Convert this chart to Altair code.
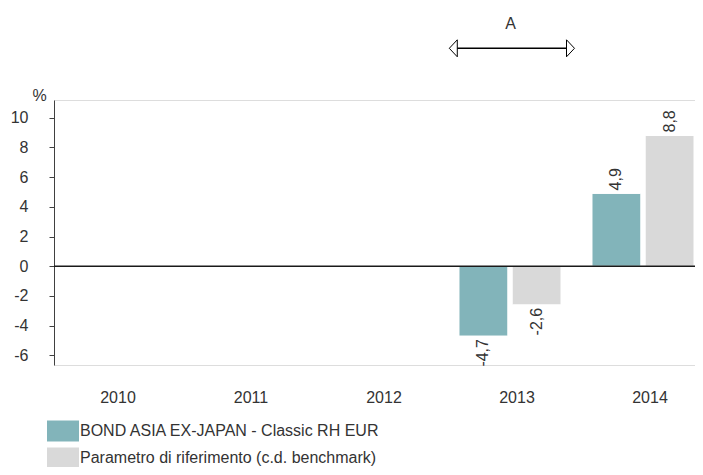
import altair as alt
import pandas as pd

years = ["2010", "2011", "2012", "2013", "2014"]
series = ["BOND ASIA EX-JAPAN - Classic RH EUR", "Parametro di riferimento (c.d. benchmark)"]
fund_values = [None, None, None, -4.7, 4.9]
bench_values = [None, None, None, -2.6, 8.8]
colors = ["#82b4ba", "#d9d9d9"]
y_ticks = [-6, -4, -2, 0, 2, 4, 6, 8, 10]
annotation_label = "A"

rows = []
for yr, fv, bv in zip(years, fund_values, bench_values):
    for s, v in ((series[0], fv), (series[1], bv)):
        if v is not None:
            rows.append({"year": yr, "series": s, "value": v,
                         "label": f"{v:.1f}".replace(".", ",")})
df = pd.DataFrame(rows)

FONT = "Liberation Sans"
TXT = "#333333"
MINUS = "\u2212"

x_enc = alt.X("year:N", sort=years,
              scale=alt.Scale(domain=years, paddingInner=0.233, paddingOuter=0.0263,
                              align=0.857, round=False),
              axis=alt.Axis(title=None, domain=False, ticks=False, labelAngle=0, labelFontSize=16,
                            labelColor=TXT, labelFont=FONT, labelPadding=24, labelOffset=7,
                            orient="bottom"))
xoff = alt.XOffset("series:N", sort=series,
                   scale=alt.Scale(domain=series, paddingInner=0.0824, paddingOuter=0))
y_enc = alt.Y("value:Q",
              scale=alt.Scale(domain=[-6.65, 11.19], nice=False, zero=False),
              axis=alt.Axis(values=y_ticks, grid=False, title="%", titleAngle=0, titleX=-15, titleY=0,
                            titleAlign="center", titleBaseline="alphabetic", titleFontSize=16,
                            titleFontWeight="normal", titleFont=FONT, titleColor=TXT,
                            labelFontSize=16, labelColor=TXT, labelFont=FONT, labelPadding=21,
                            labelOverlap=False, labelExpr=f"replace(datum.label, '{MINUS}', '-')",
                            tickSize=5, tickColor="#404040", domainColor="#404040"))
color_enc = alt.Color("series:N", sort=series,
                      scale=alt.Scale(domain=series, range=colors),
                      legend=alt.Legend(title=None, orient="none", legendX=-7, legendY=315,
                                        symbolType="M-1,-0.656H1V0.656H-1Z", symbolSize=1024,
                                        symbolStrokeWidth=0, symbolOpacity=1,
                                        labelFontSize=16, labelColor=TXT, labelFont=FONT,
                                        labelLimit=500, labelOffset=1, rowPadding=-11, padding=0))

base = alt.Chart(df)
bars = base.mark_bar(stroke="white", strokeWidth=1).encode(
    x=x_enc, xOffset=xoff, y=y_enc, color=color_enc)

zero = alt.Chart(pd.DataFrame({"value": [0]})).mark_rule(color="#1a1a1a", strokeWidth=1.5).encode(
    y=y_enc)

pos = base.transform_filter("datum.value >= 0").mark_text(
    angle=270, align="left", baseline="middle", dx=3, fontSize=16, font=FONT, color=TXT
).encode(x=x_enc, xOffset=xoff, y=y_enc, text="label:N")
neg = base.transform_filter("datum.value < 0").mark_text(
    angle=270, align="right", baseline="middle", dx=-3, fontSize=16, font=FONT, color=TXT
).encode(x=x_enc, xOffset=xoff, y=y_enc, text="label:N")

ann = pd.DataFrame({"t": [annotation_label]})
arrow_line = alt.Chart(ann).mark_rule(color="black", strokeWidth=1.5).encode(
    x=alt.value(403), x2=alt.value(512), y=alt.value(-51.7))
head_l = alt.Chart(ann).mark_point(shape="M-0.47,0L0.47,-1L0.47,1Z", size=289, filled=True,
                                   fill="white", stroke="black", strokeWidth=1, opacity=1).encode(
    x=alt.value(399.3), y=alt.value(-51.7))
head_r = alt.Chart(ann).mark_point(shape="M0.47,0L-0.47,-1L-0.47,1Z", size=289, filled=True,
                                   fill="white", stroke="black", strokeWidth=1, opacity=1).encode(
    x=alt.value(516.5), y=alt.value(-51.7))
a_text = alt.Chart(ann).mark_text(fontSize=16, font=FONT, color=TXT, baseline="alphabetic").encode(
    x=alt.value(456.7), y=alt.value(-70.7), text="t:N")

chart = alt.layer(bars, zero, pos, neg, arrow_line, head_l, head_r, a_text).properties(
    width=641, height=265, autosize="none",
    padding={"left": 46, "top": 92, "right": 0, "bottom": 102}
).configure_view(stroke=None).configure(font=FONT)

chart.save("out.html", embed_options={"renderer": "svg", "actions": False})
